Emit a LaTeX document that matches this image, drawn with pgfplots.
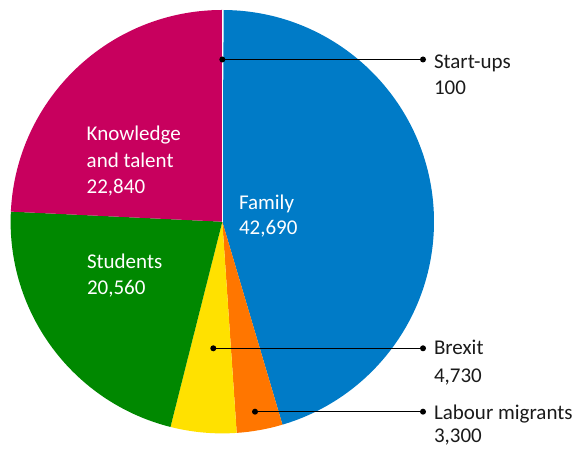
\documentclass[border=0pt]{standalone}
\usepackage{pgfplots}
\pgfplotsset{compat=1.18}
\usepackage{fontspec}
\setmainfont{Carlito}

\definecolor{cStart}{HTML}{FFFFFF}
\definecolor{cFamily}{HTML}{007BC7}
\definecolor{cLabour}{HTML}{FF7600}
\definecolor{cBrexit}{HTML}{FFE100}
\definecolor{cStudents}{HTML}{008800}
\definecolor{cKnow}{HTML}{C8005E}
\definecolor{cText}{HTML}{1A1A1A}

% slice values, clockwise from the top
\def\vStart{100}
\def\vFamily{42690}
\def\vLabour{3300}
\def\vBrexit{4730}
\def\vStudents{20560}
\def\vKnow{22840}
\edef\vTotal{\fpeval{\vStart+\vFamily+\vLabour+\vBrexit+\vStudents+\vKnow}}
\edef\aA{90}
\edef\aB{\fpeval{\aA-360*\vStart/\vTotal}}
\edef\aC{\fpeval{\aB-360*\vFamily/\vTotal}}
\edef\aD{\fpeval{\aC-360*\vLabour/\vTotal}}
\edef\aE{\fpeval{\aD-360*\vBrexit/\vTotal}}
\edef\aF{\fpeval{\aE-360*\vStudents/\vTotal}}
\edef\aG{\fpeval{\aF-360*\vKnow/\vTotal}}
\def\R{211.7bp}

\begin{document}
\begin{tikzpicture}[
lbl/.style={font=\fontsize{21bp}{26bp}\selectfont, inner sep=0pt, outer sep=0pt, anchor=base west},
]
\begin{axis}[
width=581bp,
height=450bp,
scale only axis,
hide axis,
xmin=0, xmax=581,
ymin=0, ymax=450,
clip=false,
]
\path (axis cs:0,0) rectangle (axis cs:581,450);

\fill[cStart]    (axis cs:222.3,228.3) -- ++(\aA:\R) arc[start angle=\aA, end angle=\aB, radius=\R] -- cycle;
\fill[cFamily]   (axis cs:222.3,228.3) -- ++(\aB:\R) arc[start angle=\aB, end angle=\aC, radius=\R] -- cycle;
\fill[cLabour]   (axis cs:222.3,228.3) -- ++(\aC:\R) arc[start angle=\aC, end angle=\aD, radius=\R] -- cycle;
\fill[cBrexit]   (axis cs:222.3,228.3) -- ++(\aD:\R) arc[start angle=\aD, end angle=\aE, radius=\R] -- cycle;
\fill[cStudents] (axis cs:222.3,228.3) -- ++(\aE:\R) arc[start angle=\aE, end angle=\aF, radius=\R] -- cycle;
\fill[cKnow]     (axis cs:222.3,228.3) -- ++(\aF:\R) arc[start angle=\aF, end angle=\aG, radius=\R] -- cycle;
\draw[white, line width=1.3bp] (axis cs:222.3,228.3) -- ++(90:\R);

% leader lines
\addplot[black, line width=1.3bp, mark=*, mark size=2.3bp] coordinates {(222.3,390.5) (423,390.5)};
\addplot[black, line width=1.3bp, mark=*, mark size=2.3bp] coordinates {(213.3,101.7) (423,101.7)};
\addplot[black, line width=1.3bp, mark=*, mark size=2.3bp] coordinates {(255,38.3) (423,38.3)};

% outside labels
\node[lbl, text=cText] at (axis cs:434,381.7) {Start-ups};
\node[lbl, text=cText] at (axis cs:434,355.7) {100};
\node[lbl, text=cText] at (axis cs:434,95) {Brexit};
\node[lbl, text=cText] at (axis cs:434,67.7) {4,730};
\node[lbl, text=cText] at (axis cs:434,30.7) {Labour migrants};
\node[lbl, text=cText] at (axis cs:434,7.3) {3,300};

% inside labels
\node[lbl, text=white] at (axis cs:86.7,309.3) {Knowledge};
\node[lbl, text=white] at (axis cs:86.7,282.7) {and talent};
\node[lbl, text=white] at (axis cs:86.7,256.7) {22,840};
\node[lbl, text=white] at (axis cs:239,240.7) {Family};
\node[lbl, text=white] at (axis cs:239,215) {42,690};
\node[lbl, text=white] at (axis cs:87,181) {Students};
\node[lbl, text=white] at (axis cs:87,155) {20,560};
\end{axis}
\end{tikzpicture}
\end{document}
